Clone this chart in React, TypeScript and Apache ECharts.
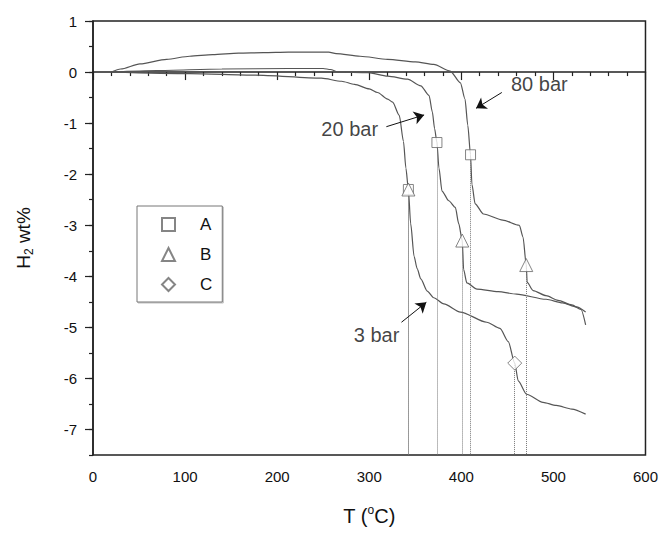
import React, { useEffect, useRef } from "react";
import * as echarts from "echarts";

// ---- data ----
const T80 = [20, 30, 51, 80, 105, 130, 158, 185, 212, 240, 256, 264, 290, 320, 350, 370, 388, 399, 404, 407, 410, 411.5, 415, 424, 445, 463, 467, 470.5, 471.5, 478, 492, 505, 520, 530, 535];
const V80 = [0, 0.06, 0.16, 0.25, 0.31, 0.34, 0.37, 0.38, 0.39, 0.39, 0.39, 0.36, 0.31, 0.25, 0.2, 0.15, 0.02, -0.21, -0.53, -1.04, -1.62, -2.2, -2.58, -2.78, -2.9, -3.0, -3.23, -3.78, -4.12, -4.28, -4.38, -4.47, -4.56, -4.65, -4.95];

const T20 = [20, 69, 140, 212, 250, 258, 266, 298.5, 320, 341.5, 356, 365, 368.5, 371, 373.5, 375.7, 379, 386.4, 393.5, 397.2, 401, 402.5, 406, 417, 440, 460, 492, 510, 525, 535];
const V20 = [0, 0.03, 0.06, 0.07, 0.07, 0.05, 0.0, -0.01, -0.08, -0.14, -0.27, -0.46, -0.78, -1.11, -1.38, -1.88, -2.33, -2.52, -2.65, -2.97, -3.3, -3.87, -4.13, -4.25, -4.3, -4.35, -4.45, -4.52, -4.6, -4.7];

const T3 = [20, 105, 176, 248, 270, 284, 300, 309, 320, 325.4, 332.6, 337.2, 339.8, 342.5, 345, 348.7, 352, 356, 363, 370, 381, 399, 427.6, 442, 451, 458, 461.8, 470.8, 488.7, 503, 520, 535];
const V3 = [0, -0.03, -0.06, -0.12, -0.18, -0.24, -0.33, -0.4, -0.53, -0.59, -0.85, -1.36, -1.88, -2.3, -2.97, -3.61, -3.85, -4.05, -4.29, -4.42, -4.54, -4.7, -4.9, -5.02, -5.28, -5.7, -6.05, -6.31, -6.47, -6.53, -6.6, -6.7];

const markA = [[373.5, -1.38], [410, -1.62], [342.5, -2.3]];
const markB = [[342.5, -2.3], [401, -3.3], [470.5, -3.78]];
const markC = [[458, -5.7]];

const annotations = [
  { name: "20 bar", at: [278.8, -1.11], from: [318.6, -1.07], to: [359.6, -0.84] },
  { name: "80 bar", at: [484.7, -0.24], from: [444, -0.4], to: [416, -0.71] },
  { name: "3 bar", at: [308, -5.15], from: [335, -4.9], to: [362, -4.51] },
];

const xTicks = [0, 100, 200, 300, 400, 500, 600];
const yTicks = [-7, -6, -5, -4, -3, -2, -1, 0, 1];

const Y_MIN = -7.5;
const Y_MAX = 1;

const FONT = "'Liberation Sans', Arial, sans-serif";
const CURVE = "#555";

const zip = (a: number[], b: number[]) => a.map((x, i) => [x, b[i]]);

const dropLines = (pts: number[][]) =>
  pts.map((p) => [{ coord: [p[0], p[1]] }, { coord: [p[0], Y_MIN] }]);

export default function App() {
  const ref = useRef<HTMLDivElement>(null);

  useEffect(() => {
    if (!ref.current) return;
    const chart = echarts.init(ref.current, null, { renderer: "svg" });

    const markerStyle = { color: "#fff", borderColor: "#666", borderWidth: 1 };
    const dropLineCfg = (pts: number[][]) => ({
      silent: true,
      symbol: ["none", "none"],
      label: { show: false },
      lineStyle: { color: "#777", type: "dotted", width: 1 },
      data: dropLines(pts),
    });

    const curve = (name: string, data: number[][]) => ({
      name,
      type: "line",
      data,
      showSymbol: false,
      smooth: 0.25,
      smoothMonotone: "x",
      lineStyle: { color: CURVE, width: 1.2 },
      z: 3,
    });

    chart.setOption({
      animation: false,
      textStyle: { fontFamily: FONT },
      grid: {
        left: 93,
        right: 11,
        top: 21,
        bottom: 71,
        show: true,
        borderColor: "#222",
        borderWidth: 1.5,
        backgroundColor: "transparent",
      },
      legend: {
        data: ["A", "B", "C"],
        orient: "vertical",
        left: 137,
        top: 206,
        itemWidth: 13,
        itemHeight: 13,
        itemGap: 13,
        padding: [10, 10, 9, 24],
        borderColor: "#777",
        borderWidth: 1,
        shadowColor: "rgba(0,0,0,0.25)",
        shadowOffsetX: 1,
        shadowOffsetY: 1,
        shadowBlur: 1,
        backgroundColor: "#fff",
        textStyle: { fontSize: 17, color: "#111", fontFamily: FONT, lineHeight: 14, padding: [0, 0, 0, 20] },
        selectedMode: false,
      },
      xAxis: {
        type: "value",
        min: 0,
        max: 600,
        interval: 100,
        name: "T ({s|o}C)",
        nameLocation: "middle",
        nameGap: 49,
        nameTextStyle: {
          fontSize: 20,
          color: "#111",
          fontFamily: FONT,
          lineHeight: 24,
          rich: {
            s: { fontSize: 12, verticalAlign: "top", lineHeight: 14, fontFamily: FONT, color: "#111" },
          },
        },
        axisLine: { show: true, lineStyle: { color: "#222", width: 1.5 } },
        axisTick: { show: true, length: 8, lineStyle: { color: "#222", width: 1.2 } },
        minorTick: { show: true, splitNumber: 5, length: 4, lineStyle: { color: "#222", width: 1.2 } },
        axisLabel: {
          fontSize: 15,
          color: "#111",
          margin: 14,
          fontFamily: FONT,
          formatter: (v: number) => (xTicks.includes(v) ? String(v) : ""),
        },
        splitLine: { show: false },
      },
      yAxis: [
        {
          type: "value",
          min: Y_MIN,
          max: Y_MAX,
          interval: 0.5,
          position: "left",
          name: "{a|H}{b|2}{a| wt%}",
          nameLocation: "middle",
          nameGap: 58,
          nameRotate: 90,
          nameTextStyle: {
            color: "#111",
            fontFamily: FONT,
            rich: {
              a: { fontSize: 19, lineHeight: 24, fontFamily: FONT, color: "#111" },
              b: { fontSize: 12, lineHeight: 24, verticalAlign: "bottom", fontFamily: FONT, color: "#111" },
            },
          },
          axisLine: { show: true, lineStyle: { color: "#222", width: 1.5 } },
          axisTick: { show: true, length: 4, lineStyle: { color: "#222", width: 1.2 } },
          axisLabel: {
            fontSize: 15,
            color: "#111",
            margin: 16,
            fontFamily: FONT,
            formatter: (v: number) => (yTicks.includes(v) ? String(v) : ""),
          },
          splitLine: { show: false },
        },
        {
          type: "value",
          min: Y_MIN,
          max: Y_MAX,
          interval: 0.5,
          position: "left",
          axisLine: { show: false },
          axisTick: {
            show: true,
            length: 8,
            customValues: yTicks,
            lineStyle: { color: "#222", width: 1.2 },
          },
          axisLabel: { show: false },
          splitLine: { show: false },
        },
      ],
      series: [
        curve("80 bar", zip(T80, V80)),
        curve("20 bar", zip(T20, V20)),
        curve("3 bar", zip(T3, V3)),
        {
          name: "A",
          type: "scatter",
          symbol: "rect",
          symbolSize: 10,
          data: markA,
          itemStyle: markerStyle,
          z: 5,
          markLine: dropLineCfg(markA),
        },
        {
          name: "B",
          type: "scatter",
          symbol: "triangle",
          symbolSize: 13,
          data: markB,
          itemStyle: markerStyle,
          z: 5,
          markLine: dropLineCfg(markB),
        },
        {
          name: "C",
          type: "scatter",
          symbol: "diamond",
          symbolSize: 14,
          data: markC,
          itemStyle: markerStyle,
          z: 5,
          markLine: dropLineCfg(markC),
        },
        {
          name: "labels",
          type: "scatter",
          symbolSize: 0,
          silent: true,
          data: annotations.map((a) => ({ value: a.at, name: a.name })),
          label: {
            show: true,
            position: "inside",
            formatter: (p: any) => p.name,
            fontSize: 20,
            color: "#111",
            fontFamily: FONT,
          },
          markLine: {
            silent: true,
            symbol: ["none", "arrow"],
            symbolSize: 10,
            label: { show: false },
            lineStyle: { color: "#111", width: 1, type: "solid" },
            data: annotations.map((a) => [{ coord: a.from }, { coord: a.to }]),
          },
        },
      ],
    });

    return () => chart.dispose();
  }, []);

  return (
    <div
      ref={ref}
      style={{ position: "fixed", left: 0, top: 0, width: 661, height: 533, background: "#fff" }}
    />
  );
}
